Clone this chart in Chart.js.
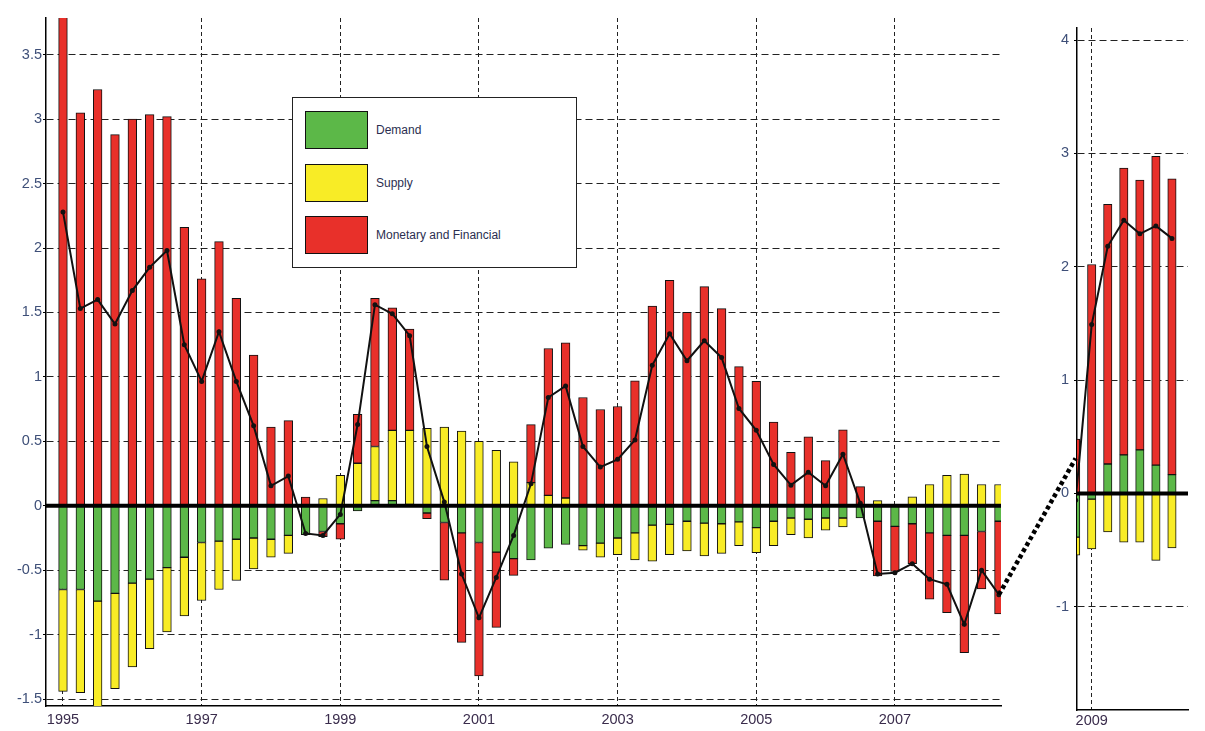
<!DOCTYPE html>
<html><head><meta charset="utf-8">
<script src="https://cdn.jsdelivr.net/npm/chart.js@4.4.1/dist/chart.umd.min.js"></script>
<style>
html,body{margin:0;padding:0;background:#fff;width:1205px;height:731px;overflow:hidden;}
#left{position:absolute;left:0;top:0;width:1015px;height:731px;}
#right{position:absolute;left:1030px;top:0;width:175px;height:731px;}
#overlay{position:absolute;left:0;top:0;width:1205px;height:731px;pointer-events:none;}
#legend{position:absolute;left:292px;top:97px;width:283px;height:169px;border:1.5px solid #222;background:#fff;font-family:"Liberation Sans",Arial,sans-serif;font-size:12px;color:#2b2e50;}
.item{position:absolute;left:12px;height:39px;width:260px;}
.sw{position:absolute;left:0;top:0;width:61px;height:36px;border:1.5px solid #111;}
.lb{position:absolute;left:71px;top:0;line-height:39px;white-space:nowrap;}
</style></head>
<body>
<div id="left"><canvas id="cl"></canvas></div>
<div id="right"><canvas id="cr"></canvas></div>
<canvas id="overlay"></canvas>
<div id="legend"></div>
<script>
// ---------- DATA ----------
const seriesNames = ["Demand", "Supply", "Monetary and Financial"];
const seriesColors = ["#5cb848", "#f8ec26", "#e8302a"];

const leftQuarters = [
 "1995Q1","1995Q2","1995Q3","1995Q4","1996Q1","1996Q2","1996Q3","1996Q4",
 "1997Q1","1997Q2","1997Q3","1997Q4","1998Q1","1998Q2","1998Q3","1998Q4",
 "1999Q1","1999Q2","1999Q3","1999Q4","2000Q1","2000Q2","2000Q3","2000Q4",
 "2001Q1","2001Q2","2001Q3","2001Q4","2002Q1","2002Q2","2002Q3","2002Q4",
 "2003Q1","2003Q2","2003Q3","2003Q4","2004Q1","2004Q2","2004Q3","2004Q4",
 "2005Q1","2005Q2","2005Q3","2005Q4","2006Q1","2006Q2","2006Q3","2006Q4",
 "2007Q1","2007Q2","2007Q3","2007Q4","2008Q1","2008Q2","2008Q3"];
const leftDemand = [
 -0.65,-0.65,-0.74,-0.68, -0.60,-0.57,-0.48,-0.40,
 -0.285,-0.275,-0.26,-0.25, -0.26,-0.23,-0.225,-0.20,
 -0.14,-0.04,0.04,0.04, 0.01,-0.056,-0.13,-0.21,
 -0.285,-0.36,-0.41,-0.42, -0.33,-0.30,-0.31,-0.29,
 -0.25,-0.21,-0.15,-0.145, -0.12,-0.135,-0.14,-0.125,
 -0.17,-0.12,-0.095,-0.105, -0.095,-0.095,-0.095,-0.12,
 -0.16,-0.14,-0.21,-0.23, -0.23,-0.20,-0.12];
const leftSupply = [
 -0.79,-0.80,-0.89,-0.74, -0.65,-0.54,-0.50,-0.455,
 -0.45,-0.375,-0.32,-0.24, -0.14,-0.14,0,0.056,
 0.236,0.33,0.42,0.545, 0.575,0.60,0.61,0.58,
 0.50,0.43,0.34,0.18, 0.08,0.06,-0.035,-0.11,
 -0.13,-0.21,-0.28,-0.235, -0.23,-0.255,-0.23,-0.185,
 -0.195,-0.19,-0.13,-0.145, -0.095,-0.07,0,0.04,
 0,0.07,0.165,0.236, 0.246,0.165,0.165];
const leftMonetary = [
 3.85,3.05,3.23,2.88, 3.00,3.035,3.02,2.16,
 1.76,2.05,1.61,1.17, 0.61,0.66,0.067,-0.04,
 -0.12,0.38,1.15,0.95, 0.785,-0.044,-0.447,-0.85,
 -1.035,-0.584,-0.13,0.45, 1.14,1.205,0.84,0.747,
 0.77,0.97,1.55,1.75, 1.50,1.70,1.53,1.08,
 0.965,0.65,0.415,0.535, 0.35,0.59,0.148,-0.425,
 -0.35,-0.31,-0.515,-0.60, -0.91,-0.445,-0.72];
const leftTotal = [
 2.28,1.53,1.60,1.41, 1.67,1.85,1.98,1.25,
 0.965,1.35,0.965,0.62, 0.155,0.23,-0.215,-0.23,
 -0.067,0.63,1.56,1.49, 1.32,0.46,0.03,-0.53,
 -0.87,-0.556,-0.23,0.17, 0.84,0.93,0.46,0.30,
 0.36,0.51,1.09,1.335, 1.125,1.28,1.15,0.755,
 0.585,0.32,0.16,0.26, 0.155,0.40,0.02,-0.53,
 -0.52,-0.45,-0.57,-0.61, -0.92,-0.50,-0.69];

const rightQuarters = ["2008Q4","2009Q1","2009Q2","2009Q3","2009Q4","2010Q1","2010Q2"];
const rightDemand   = [-0.385,-0.05,0.26,0.34,0.385,0.25,0.166];
const rightSupply   = [-0.16,-0.44,-0.34,-0.43,-0.43,-0.59,-0.48];
const rightMonetary = [0.48,2.02,2.29,2.53,2.38,2.725,2.61];
const rightTotal    = [-0.06,1.49,2.18,2.41,2.29,2.36,2.25];

const leftXTicks  = [1995,1997,1999,2001,2003,2005,2007];
const leftYTicks  = [-1.5,-1,-0.5,0,0.5,1,1.5,2,2.5,3,3.5];
const rightXTicks = [2009];
const rightYTicks = [-1,0,1,2,3,4];

// dotted connector between panels: [quarter, value] on left axis -> right axis
const connectorFrom = ["2008Q3", -0.69];
const connectorTo   = ["2008Q4", 0.31];

// ---------- HELPERS ----------
const qx = q => Number(q.slice(0,4)) + (Number(q.slice(5)) - 1) / 4;
const FONT = '"Liberation Sans", Arial, sans-serif';

const zeroLine = {
  id: 'zeroLine',
  afterDatasetsDraw(chart) {
    const {ctx, chartArea: a, scales: {y}} = chart;
    const py = y.getPixelForValue(0);
    ctx.save();
    ctx.strokeStyle = '#000';
    ctx.lineWidth = 4;
    ctx.beginPath();
    ctx.moveTo(a.left, py);
    ctx.lineTo(a.right, py);
    ctx.stroke();
    ctx.restore();
  }
};

function makeChart(id, quarters, dem, sup, mon, tot, cfg) {
  const pts = arr => arr.map((v, i) => ({x: qx(quarters[i]), y: v}));
  const barDs = (label, color, arr) => ({
    type: 'bar', label, data: pts(arr), backgroundColor: color,
    borderColor: '#111', borderWidth: 1, borderSkipped: false,
    barThickness: cfg.barW, stack: 'bars', order: 1
  });
  return new Chart(document.getElementById(id), {
    type: 'bar',
    data: {
      datasets: [
        barDs(seriesNames[0], seriesColors[0], dem),
        barDs(seriesNames[1], seriesColors[1], sup),
        barDs(seriesNames[2], seriesColors[2], mon),
        { type: 'line', label: 'Total', data: pts(tot), borderColor: '#111',
          backgroundColor: '#111', borderWidth: 2, pointRadius: 2.5,
          pointBackgroundColor: '#111', pointBorderWidth: 0, tension: 0,
          stack: 'total', order: 0 }
      ]
    },
    options: {
      responsive: true, maintainAspectRatio: false, animation: false,
      layout: {padding: {left: 0, top: cfg.padTop, right: cfg.padRight, bottom: 0}},
      plugins: {legend: {display: false}, tooltip: {enabled: false}},
      scales: {
        x: {
          type: 'linear', min: cfg.xMin, max: cfg.xMax, offset: false, stacked: true,
          grid: {offset: false, color: '#222', lineWidth: 1, drawTicks: false},
          border: {display: true, color: '#000', width: 1.5, dash: [4, 3]},
          afterBuildTicks: s => { s.ticks = cfg.xTicks.map(v => ({value: v})); },
          afterFit: s => { s.height = cfg.xH; },
          ticks: {autoSkip: false, maxRotation: 0, padding: cfg.xPad, color: '#3a2c4c',
                  font: {family: FONT, size: 14.5}, callback: v => String(v)}
        },
        y: {
          type: 'linear', min: cfg.yMin, max: cfg.yMax, stacked: true,
          grid: {color: '#222', lineWidth: 1, drawTicks: true, tickLength: 3,
                 tickColor: '#000', tickBorderDash: []},
          border: {display: true, color: '#000', width: 1.5, dash: [7, 4]},
          afterBuildTicks: s => { s.ticks = cfg.yTicks.map(v => ({value: v})); },
          afterFit: s => { s.width = cfg.yW; },
          ticks: {padding: cfg.yPad, color: '#3e4f78',
                  font: {family: FONT, size: 14.5}, callback: v => String(v)}
        }
      }
    },
    plugins: [zeroLine]
  });
}

const leftChart = makeChart('cl', leftQuarters, leftDemand, leftSupply, leftMonetary, leftTotal, {
  xMin: 1994.755, xMax: 2008.53, yMin: -1.554, yMax: 3.785,
  xTicks: leftXTicks, yTicks: leftYTicks,
  padTop: 18, padRight: 14, yW: 46, xH: 25, xPad: 5, yPad: 1, barW: 8.7
});
const rightChart = makeChart('cr', rightQuarters, rightDemand, rightSupply, rightMonetary, rightTotal, {
  xMin: 2008.771, xMax: 2010.5, yMin: -1.91, yMax: 4.106,
  xTicks: rightXTicks, yTicks: rightYTicks,
  padTop: 28, padRight: 17, yW: 47, xH: 21, xPad: 2, yPad: 5, barW: 8.4
});

// ---------- LEGEND (built from chart datasets) ----------
(function buildLegend() {
  const box = document.getElementById('legend');
  leftChart.data.datasets.slice(0, 3).forEach((ds, i) => {
    const it = document.createElement('div');
    it.className = 'item';
    it.style.top = (13 + i * 52.5) + 'px';
    const sw = document.createElement('div');
    sw.className = 'sw';
    sw.style.background = ds.backgroundColor;
    const lb = document.createElement('div');
    lb.className = 'lb';
    lb.textContent = ds.label;
    it.appendChild(sw); it.appendChild(lb);
    box.appendChild(it);
  });
})();

// ---------- CONNECTOR ----------
(function drawConnector() {
  const cv = document.getElementById('overlay');
  const dpr = window.devicePixelRatio || 1;
  cv.width = 1205 * dpr; cv.height = 731 * dpr;
  const ctx = cv.getContext('2d');
  ctx.scale(dpr, dpr);
  const lr = document.getElementById('cl').getBoundingClientRect();
  const rr = document.getElementById('cr').getBoundingClientRect();
  const x1 = lr.left + leftChart.scales.x.getPixelForValue(qx(connectorFrom[0]));
  const y1 = lr.top + leftChart.scales.y.getPixelForValue(connectorFrom[1]);
  const x2 = rr.left + rightChart.scales.x.getPixelForValue(qx(connectorTo[0]));
  const y2 = rr.top + rightChart.scales.y.getPixelForValue(connectorTo[1]);
  ctx.strokeStyle = '#000';
  ctx.lineWidth = 4.5;
  ctx.setLineDash([4, 3]);
  ctx.beginPath();
  ctx.moveTo(x1, y1);
  ctx.lineTo(x2, y2);
  ctx.stroke();
})();
</script>
</body></html>
